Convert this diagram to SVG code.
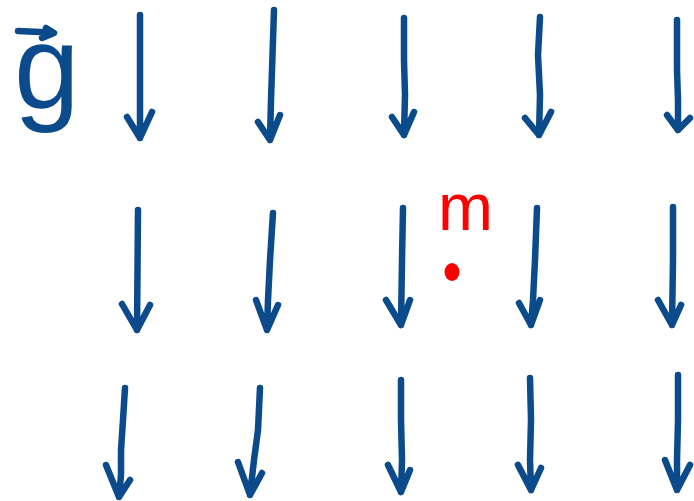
<svg xmlns="http://www.w3.org/2000/svg" width="694" height="501" viewBox="0 0 694 501">
<style>
.a{fill:none;stroke:#0b4a8b;stroke-width:6.5;stroke-linecap:round;stroke-linejoin:round}
.g{font-family:"Liberation Sans",Arial,sans-serif;fill:#0b4a8b}
.m{font-family:"Liberation Sans",Arial,sans-serif;fill:#ff0000}
</style>
<rect width="694" height="501" fill="#ffffff"/>
<g id="label-g">
<text class="g" x="14" y="108" font-size="118">g</text>
<path class="a" d="M18,31 L40,32 L52,33 M46,28 L54,33 L42,38"/>
</g>
<g id="mass">
<text class="m" x="438" y="230" font-size="66">m</text>
<ellipse cx="452" cy="272" rx="7.5" ry="9" fill="#ff0000"/>
</g>
<g id="field">
<path class="a" d="M140,15 L140,138 M127,117 L140,138 L152,112"/>
<path class="a" d="M274,10 L272,70 L271,100 L270,140 M258,122 L270,140 L280,115"/>
<path class="a" d="M404,18 L404,60 L405,95 L404,135 M392,117 L404,135 L414,112"/>
<path class="a" d="M540,17 L538,55 L540,95 L539,135 M525,118 L539,135 L551,112"/>
<path class="a" d="M677,20 L677,70 L678,100 L678,130 M667,115 L678,130 L690,118"/>
<path class="a" d="M138,210 L137,330 M122,304 L137,330 L150,305"/>
<path class="a" d="M273,213 L270,260 L268,300 L267,330 M256,300 L267,330 L278,305"/>
<path class="a" d="M403,208 L402,260 L401,325 M386,300 L401,325 L410,300"/>
<path class="a" d="M537,208 L535,260 L533,300 L531,325 M519,303 L531,325 L540,300"/>
<path class="a" d="M673,207 L673,260 L672,325 M658,300 L672,325 L681,305"/>
<path class="a" d="M125,388 L123,420 L121,450 L121,475 L119,497 M106,465 L119,497 L130,480"/>
<path class="a" d="M260,388 L258,430 L254,460 L250,495 M238,462 L250,495 L262,473"/>
<path class="a" d="M401,380 L401,420 L402,460 L401,492 M388,465 L401,492 L410,470"/>
<path class="a" d="M530,378 L531,420 L530,460 L531,490 M518,465 L531,490 L541,468"/>
<path class="a" d="M678,375 L678,420 L677,460 L677,490 M665,460 L677,490 L690,465"/>
</g>
</svg>
